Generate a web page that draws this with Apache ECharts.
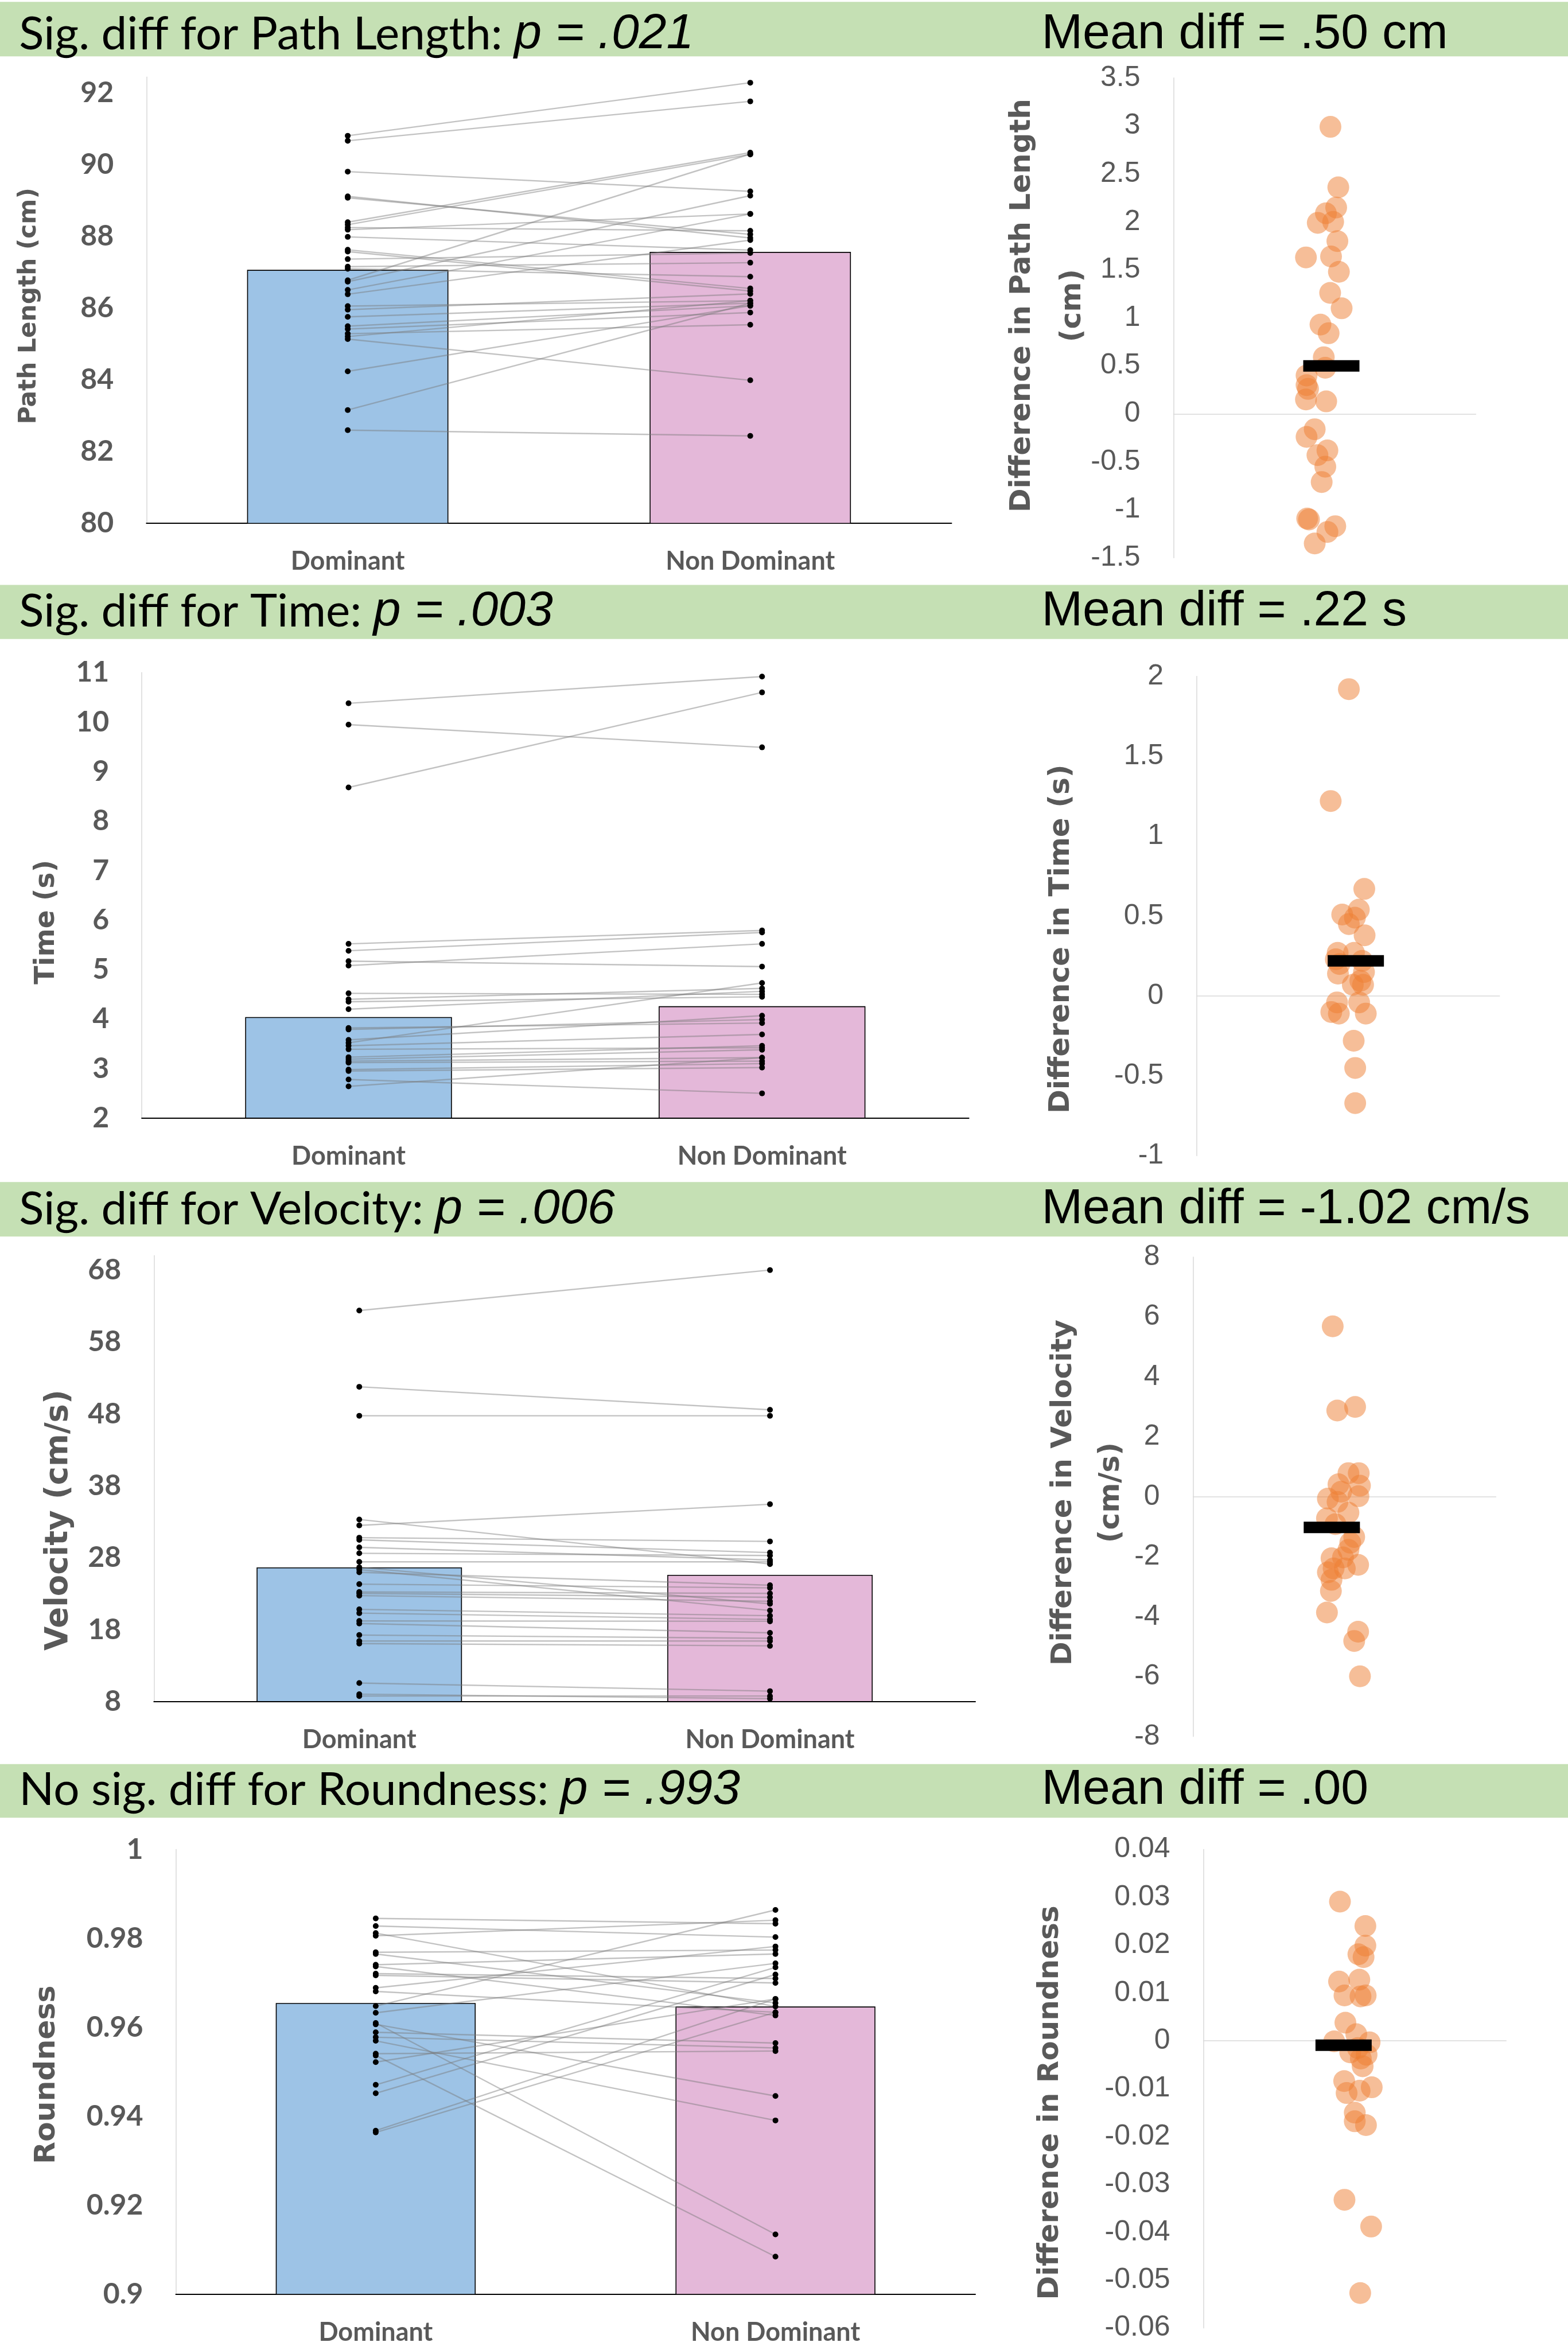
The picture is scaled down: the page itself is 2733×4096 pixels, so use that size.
<!DOCTYPE html>
<html><head><meta charset="utf-8">
<script src="https://cdn.jsdelivr.net/npm/echarts@6/dist/echarts.min.js"></script>
<style>html,body{margin:0;padding:0;background:#fff}#c{width:2733px;height:4096px}</style>
</head><body><div id="c"></div>
<script>
// ---------- DATA ----------
const categories = ['Dominant', 'Non Dominant'];

// Panel 1: Path Length (cm)
const pathBars = [87.07, 87.57];
const pathDom = [90.81, 90.67, 89.81, 89.12, 89.08, 88.40, 88.33, 88.25, 88.19, 87.99, 87.63, 87.58, 87.37, 87.16, 87.10, 86.78, 86.74, 86.51, 86.39, 86.06, 85.96, 85.76, 85.50, 85.42, 85.29, 85.21, 85.14, 84.24, 83.16, 82.60];
const pathNon = [92.29, 91.77, 89.26, 87.96, 88.06, 90.34, 90.29, 88.16, 88.63, 87.62, 86.55, 86.48, 87.54, 87.27, 86.88, 90.30, 89.14, 88.63, 87.90, 86.21, 86.40, 86.14, 86.07, 85.88, 85.54, 86.21, 83.99, 86.07, 86.14, 82.44];
const pathDiff = [2.99, 2.36, 2.15, 2.09, 1.99, 2.00, 1.80, 1.63, 1.64, 1.48, 1.26, 1.10, 0.93, 0.84, 0.59, 0.48, 0.40, 0.30, 0.26, 0.15, 0.13, -0.16, -0.24, -0.38, -0.43, -0.55, -0.71, -1.09, -1.10, -1.17, -1.23, -1.35];
const pathJitter = [0.519, 0.545, 0.538, 0.504, 0.477, 0.528, 0.542, 0.438, 0.521, 0.547, 0.518, 0.556, 0.486, 0.513, 0.497, 0.502, 0.440, 0.440, 0.445, 0.438, 0.505, 0.467, 0.440, 0.509, 0.476, 0.502, 0.490, 0.442, 0.448, 0.535, 0.509, 0.467];
const pathMean = [0.522, 0.50];

// Panel 2: Time (s)
const timeBars = [4.04, 4.26];
const timeDom = [10.38, 9.95, 8.68, 5.52, 5.38, 5.17, 5.08, 4.52, 4.40, 4.35, 4.20, 3.82, 3.79, 3.58, 3.52, 3.46, 3.39, 3.23, 3.19, 3.15, 3.12, 2.98, 2.95, 2.78, 2.64];
const timeNon = [10.92, 9.49, 10.60, 5.79, 5.75, 5.06, 5.52, 4.50, 4.62, 4.45, 4.56, 3.92, 3.99, 4.07, 4.73, 3.69, 3.42, 3.46, 3.38, 3.22, 3.15, 3.10, 3.02, 2.50, 3.22];
const timeDiff = [1.92, 1.22, 0.67, 0.54, 0.51, 0.49, 0.45, 0.38, 0.27, 0.27, 0.23, 0.22, 0.20, 0.15, 0.14, 0.07, 0.07, 0.095, -0.04, -0.04, -0.10, -0.11, -0.11, -0.28, -0.45, -0.67];
const timeJitter = [0.502, 0.442, 0.553, 0.535, 0.480, 0.522, 0.502, 0.554, 0.465, 0.519, 0.459, 0.546, 0.471, 0.552, 0.466, 0.515, 0.549, 0.540, 0.463, 0.536, 0.444, 0.469, 0.558, 0.518, 0.523, 0.523];
const timeMean = [0.525, 0.22];

// Panel 3: Velocity (cm/s)
const velBars = [26.66, 25.62];
const velDom = [62.37, 51.77, 47.74, 33.32, 32.50, 30.79, 30.48, 29.45, 28.62, 27.43, 26.66, 26.35, 25.98, 24.33, 23.24, 23.04, 22.73, 20.82, 20.30, 19.21, 18.85, 17.25, 16.42, 16.06, 10.58, 9.03, 8.77];
const velNon = [68.0, 48.57, 47.74, 27.12, 35.44, 30.27, 28.72, 27.69, 28.31, 27.43, 21.59, 20.66, 24.18, 23.81, 23.04, 22.50, 21.95, 19.94, 19.42, 19.16, 17.56, 16.80, 16.42, 15.75, 9.45, 8.41, 8.77];
const velDiff = [5.69, 2.88, 3.00, 0.79, 0.79, 0.42, 0.37, 0.17, -0.06, 0.02, -0.17, -0.53, -0.72, -0.91, -1.34, -1.53, -1.77, -2.05, -2.02, -2.27, -2.39, -2.52, -2.39, -2.77, -3.14, -3.86, -4.50, -4.81, -5.99];
const velJitter = [0.461, 0.476, 0.535, 0.513, 0.547, 0.480, 0.551, 0.489, 0.445, 0.546, 0.477, 0.513, 0.442, 0.470, 0.532, 0.519, 0.513, 0.457, 0.495, 0.545, 0.501, 0.445, 0.464, 0.457, 0.455, 0.442, 0.545, 0.532, 0.551];
const velMean = [0.458, -1.02];

// Panel 4: Roundness
const roundBars = [0.9655, 0.9647];
const roundDom = [0.9845, 0.9828, 0.9812, 0.9806, 0.9769, 0.9765, 0.9741, 0.9737, 0.9721, 0.9717, 0.9689, 0.9681, 0.9648, 0.9633, 0.9610, 0.9607, 0.9589, 0.9578, 0.9570, 0.9541, 0.9537, 0.9522, 0.9471, 0.9452, 0.9368, 0.9364];
const roundNon = [0.9833, 0.9803, 0.9647, 0.9841, 0.9774, 0.9655, 0.9765, 0.9627, 0.9710, 0.9700, 0.9782, 0.9634, 0.9864, 0.9744, 0.9135, 0.9446, 0.9565, 0.9554, 0.9391, 0.9547, 0.9085, 0.9664, 0.9735, 0.9719, 0.9664, 0.9634];
const roundDiff = [0.0291, 0.0240, 0.0199, 0.0181, 0.0175, 0.0124, 0.0128, 0.0095, 0.0093, 0.0095, 0.0038, 0.0014, -0.0001, -0.0003, -0.0015, -0.0024, -0.0029, -0.0037, -0.0053, -0.0084, -0.0109, -0.0104, -0.0097, -0.0150, -0.0168, -0.0176, -0.0332, -0.0388, -0.0527];
const roundJitter = [0.451, 0.535, 0.535, 0.512, 0.529, 0.448, 0.515, 0.466, 0.519, 0.536, 0.469, 0.505, 0.432, 0.549, 0.510, 0.485, 0.539, 0.520, 0.526, 0.465, 0.473, 0.516, 0.556, 0.500, 0.500, 0.537, 0.466, 0.554, 0.518];
const roundMean = [0.463, -0.0009];

// Axis ticks
const yTicks = [
  {L: {min: 80, max: 92.45, interval: 2, showMax: false}, R: {min: -1.5, max: 3.5, interval: 0.5}},
  {L: {min: 2, max: 11, interval: 1, showMax: true}, R: {min: -1, max: 2, interval: 0.5}},
  {L: {min: 8, max: 70, interval: 10, showMax: false}, R: {min: -8, max: 8, interval: 2}},
  {L: {min: 0.9, max: 1, interval: 0.02, showMax: true}, R: {min: -0.06, max: 0.04, interval: 0.01}}
];

// Texts
const headLeft = [
  ['Sig. diff for Path Length: ', 'p = .021'],
  ['Sig. diff for Time: ', 'p = .003'],
  ['Sig. diff for Velocity: ', 'p = .006'],
  ['No sig. diff for Roundness: ', 'p = .993']
];
const headRight = ['Mean diff = .50 cm', 'Mean diff = .22 s', 'Mean diff = -1.02 cm/s', 'Mean diff = .00'];
const titleLeft = ['Path Length (cm)', 'Time (s)', 'Velocity (cm/s)', 'Roundness'];
const titleRight = [['Difference in Path Length', '(cm)'], ['Difference in Time (s)'], ['Difference in Velocity', '(cm/s)'], ['Difference in Roundness']];

// ---------- LAYOUT (reference pixel coordinates, scaled) ----------
const S = 0.813;
const k = v => v * S;
const layout = [
  {gL: {l: 314, r: 2040, t: 165, b: 1122}, gR: {l: 2516, r: 3164, t: 167, b: 1196}, band: [4, 121], headY: 74,
   tL: {x: 63, y: 656, fs: 52}, tR: [{x: 2192, y: 655}, {x: 2300, y: 655}]},
  {gL: {l: 304, r: 2077, t: 1442, b: 2397}, gR: {l: 2566, r: 3215, t: 1450, b: 2478}, band: [1254, 1370], headY: 1311,
   tL: {x: 101, y: 1977, fs: 58}, tR: [{x: 2275, y: 2013}]},
  {gL: {l: 330, r: 2091, t: 2692, b: 3648}, gR: {l: 2558, r: 3207, t: 2695, b: 3723}, band: [2534, 2651], headY: 2593,
   tL: {x: 126, y: 3259, fs: 67}, tR: [{x: 2281, y: 3200}, {x: 2383, y: 3200}]},
  {gL: {l: 377, r: 2091, t: 3965, b: 4919}, gR: {l: 2580, r: 3229, t: 3965, b: 4991}, band: [3782, 3897], headY: 3838,
   tL: {x: 101, y: 4448, fs: 62}, tR: [{x: 2252, y: 4508}]}
];

const panelData = [
  {bars: pathBars, dom: pathDom, non: pathNon, diff: pathDiff, jit: pathJitter, mean: pathMean},
  {bars: timeBars, dom: timeDom, non: timeNon, diff: timeDiff, jit: timeJitter, mean: timeMean},
  {bars: velBars, dom: velDom, non: velNon, diff: velDiff, jit: velJitter, mean: velMean},
  {bars: roundBars, dom: roundDom, non: roundNon, diff: roundDiff, jit: roundJitter, mean: roundMean}
];

const barColors = ['#9DC3E6', '#E4B8D9'];
const grey = '#595959';

const grid = [], xAxis = [], yAxis = [], series = [], graphic = [];

panelData.forEach((p, i) => {
  const L = layout[i];
  const gi = i * 2;
  grid.push({left: k(L.gL.l), top: k(L.gL.t), width: k(L.gL.r - L.gL.l), height: k(L.gL.b - L.gL.t)});
  grid.push({left: k(L.gR.l), top: k(L.gR.t), width: k(L.gR.r - L.gR.l), height: k(L.gR.b - L.gR.t)});

  xAxis.push({type: 'category', gridIndex: gi, data: categories,
    axisLine: {lineStyle: {color: '#000', width: 2}}, axisTick: {show: false}, splitLine: {show: false},
    axisLabel: {margin: 44, fontFamily: 'Lato', fontWeight: 'bold', fontSize: 45, color: grey}});
  yAxis.push({type: 'value', gridIndex: gi, min: yTicks[i].L.min, max: yTicks[i].L.max, interval: yTicks[i].L.interval,
    axisLine: {show: true, lineStyle: {color: '#D9D9D9', width: 1.5}}, axisTick: {show: false}, splitLine: {show: false},
    axisLabel: {margin: 57, fontFamily: 'Lato', fontWeight: 'bold', fontSize: 50, color: grey, showMaxLabel: yTicks[i].L.showMax}});

  xAxis.push({type: 'value', gridIndex: gi + 1, min: 0, max: 1,
    axisLine: {show: true, onZero: true, lineStyle: {color: '#D9D9D9', width: 1.5}}, axisTick: {show: false},
    axisLabel: {show: false}, splitLine: {show: false}});
  yAxis.push({type: 'value', gridIndex: gi + 1, min: yTicks[i].R.min, max: yTicks[i].R.max, interval: yTicks[i].R.interval,
    axisLine: {show: true, lineStyle: {color: '#D9D9D9', width: 1.5}}, axisTick: {show: false}, splitLine: {show: false},
    axisLabel: {margin: 58, fontFamily: 'Liberation Sans', fontSize: 50, color: grey}});

  series.push({type: 'bar', xAxisIndex: gi, yAxisIndex: gi, barWidth: '50%', z: 1,
    data: p.bars.map((v, j) => ({value: v, itemStyle: {color: barColors[j]}})),
    itemStyle: {borderColor: '#000', borderWidth: 1.6}});

  series.push({type: 'custom', xAxisIndex: gi, yAxisIndex: gi, z: 2,
    encode: {x: 0, y: [1, 2]},
    data: p.dom.map((d, j) => [0, d, p.non[j]]),
    renderItem: (params, api) => {
      const a = api.coord([0, api.value(1)]);
      const b = api.coord([1, api.value(2)]);
      return {type: 'line', shape: {x1: a[0], y1: a[1], x2: b[0], y2: b[1]},
        style: {stroke: 'rgba(120,120,120,0.45)', lineWidth: 2.4}};
    }});

  series.push({type: 'scatter', xAxisIndex: gi, yAxisIndex: gi, z: 3, symbolSize: 10,
    itemStyle: {color: '#000', opacity: 1},
    data: p.dom.map(v => [0, v]).concat(p.non.map(v => [1, v]))});

  series.push({type: 'scatter', xAxisIndex: gi + 1, yAxisIndex: gi + 1, z: 3, symbolSize: 38,
    itemStyle: {color: '#ED7D31', opacity: 0.5},
    data: p.diff.map((v, j) => [p.jit[j], v])});

  series.push({type: 'scatter', xAxisIndex: gi + 1, yAxisIndex: gi + 1, z: 5, symbol: 'rect', symbolSize: [98, 20],
    itemStyle: {color: '#000', opacity: 1},
    data: [p.mean]});

  // header band
  graphic.push({type: 'rect', z: -10, shape: {x: 0, y: k(L.band[0]), width: 2733, height: k(L.band[1] - L.band[0])},
    style: {fill: '#C5E0B4'}});
  graphic.push({type: 'text', z: 10, x: k(41), y: k(L.headY),
    style: {text: '{a|' + headLeft[i][0] + '}{b|' + headLeft[i][1] + '}', fill: '#000',
      align: 'left', textAlign: 'left', verticalAlign: 'middle', textVerticalAlign: 'middle',
      rich: {a: {fontFamily: 'Lato', fontSize: 80, fill: '#000'},
             b: {fontFamily: 'Liberation Sans', fontStyle: 'italic', fontSize: 86, fill: '#000'}}}});
  graphic.push({type: 'text', z: 10, x: k(2233), y: k(L.headY),
    style: {text: headRight[i], fill: '#000', fontFamily: 'Liberation Sans', fontSize: 86,
      align: 'left', textAlign: 'left', verticalAlign: 'middle', textVerticalAlign: 'middle'}});
  // left y title
  graphic.push({type: 'text', z: 10, x: k(L.tL.x), y: k(L.tL.y), rotation: Math.PI / 2,
    style: {text: titleLeft[i], fill: grey, fontFamily: 'DejaVu Sans', fontWeight: 'bold', fontSize: k(L.tL.fs),
      align: 'center', textAlign: 'center', verticalAlign: 'middle', textVerticalAlign: 'middle'}});
  // right y title
  titleRight[i].forEach((t, j) => {
    graphic.push({type: 'text', z: 10, x: k(L.tR[j].x), y: k(L.tR[j].y), rotation: Math.PI / 2,
      style: {text: t, fill: grey, fontFamily: 'DejaVu Sans', fontWeight: 'bold', fontSize: 50,
        align: 'center', textAlign: 'center', verticalAlign: 'middle', textVerticalAlign: 'middle'}});
  });
});

const chart = echarts.init(document.getElementById('c'), null, {renderer: 'canvas'});
chart.setOption({backgroundColor: '#fff', animation: false, grid, xAxis, yAxis, series, graphic});
</script></body></html>
